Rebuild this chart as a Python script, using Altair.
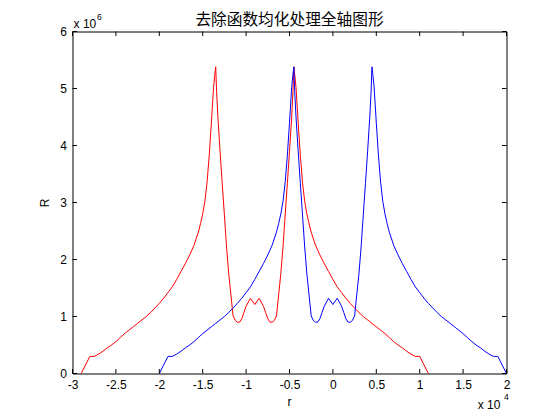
import altair as alt
import pandas as pd

# Tick values
x_ticks = [-30000, -25000, -20000, -15000, -10000, -5000, 0, 5000, 10000, 15000, 20000]
y_ticks = [0, 1, 2, 3, 4, 5, 6]

# Blue curve: r and R (R in units of 10^6)
blue_x = [-20000, -19000, -18500, -18000, -17500, -17000, -16500, -16000, -15500, -15000,
          -14500, -14000, -13500, -13000, -12500, -12000, -11500, -11000, -10500, -10000,
          -9500, -9000, -8500, -8000, -7500, -7000, -6500, -6250, -6000, -5750,
          -5500, -5250, -5000, -4750, -4600, -4500, -4400, -4250, -4000, -3750,
          -3500, -3250, -3000, -2750, -2500, -2250, -2000, -1750, -1500, -1250,
          -1000, -500, 0, 500, 1000, 1250, 1500, 1750, 2000, 2250,
          2500, 2750, 3000, 3250, 3500, 3750, 4000, 4250, 4400, 4500,
          4600, 4750, 5000, 5250, 5500, 5750, 6000, 6250, 6500, 7000,
          7500, 8000, 8500, 9000, 9500, 10000, 10500, 11000, 11500, 12000,
          12500, 13000, 13500, 14000, 14500, 15000, 15500, 16000, 16500, 17000,
          17500, 18000, 18500, 19000, 20000]
blue_y = [0.0, 0.30, 0.30, 0.34, 0.39, 0.45, 0.50, 0.56, 0.63, 0.70,
          0.76, 0.82, 0.88, 0.94, 1.00, 1.07, 1.15, 1.23, 1.32, 1.42,
          1.52, 1.65, 1.79, 1.93, 2.08, 2.25, 2.48, 2.63, 2.80, 3.02,
          3.35, 3.82, 4.40, 5.02, 5.25, 5.38, 4.95, 4.50, 3.90, 3.33,
          2.78, 2.22, 1.75, 1.38, 1.01, 0.93, 0.90, 0.90, 0.96, 1.07,
          1.18, 1.32, 1.21, 1.32, 1.18, 1.07, 0.96, 0.90, 0.90, 0.93,
          1.01, 1.38, 1.75, 2.22, 2.78, 3.33, 3.90, 4.50, 4.95, 5.38,
          5.25, 5.02, 4.40, 3.82, 3.35, 3.02, 2.80, 2.63, 2.48, 2.25,
          2.08, 1.93, 1.79, 1.65, 1.52, 1.42, 1.32, 1.23, 1.15, 1.07,
          1.00, 0.94, 0.88, 0.82, 0.76, 0.70, 0.63, 0.56, 0.50, 0.45,
          0.39, 0.34, 0.30, 0.30, 0.0]

# Red curve
red_x = [-29000, -28000, -27500, -27000, -26500, -26000, -25500, -25000, -24500, -24000,
         -23500, -23000, -22500, -22000, -21500, -21000, -20500, -20000, -19500, -19000,
         -18500, -18000, -17500, -17000, -16500, -16000, -15500, -15250, -15000, -14750,
         -14500, -14250, -14000, -13750, -13600, -13500, -13400, -13250, -13000, -12750,
         -12500, -12250, -12000, -11750, -11500, -11250, -11000, -10750, -10500, -10250,
         -10000, -9500, -9000, -8500, -8000, -7750, -7500, -7250, -7000, -6750,
         -6500, -6250, -6000, -5750, -5500, -5250, -5000, -4750, -4600, -4500,
         -4400, -4250, -4000, -3750, -3500, -3250, -3000, -2750, -2500, -2000,
         -1500, -1000, -500, 0, 500, 1000, 1500, 2000, 2500, 3000,
         3500, 4000, 4500, 5000, 5500, 6000, 6500, 7000, 7500, 8000,
         8500, 9000, 9500, 10000, 11000]
red_y = [0.0, 0.30, 0.30, 0.34, 0.39, 0.45, 0.50, 0.56, 0.63, 0.70,
         0.76, 0.82, 0.88, 0.94, 1.00, 1.07, 1.15, 1.23, 1.32, 1.42,
         1.52, 1.65, 1.79, 1.93, 2.08, 2.25, 2.48, 2.63, 2.80, 3.02,
         3.35, 3.82, 4.40, 5.02, 5.25, 5.38, 4.95, 4.50, 3.90, 3.33,
         2.78, 2.22, 1.75, 1.38, 1.01, 0.93, 0.90, 0.90, 0.96, 1.07,
         1.18, 1.32, 1.21, 1.32, 1.18, 1.07, 0.96, 0.90, 0.90, 0.93,
         1.01, 1.38, 1.75, 2.22, 2.78, 3.33, 3.90, 4.50, 4.95, 5.38,
         5.25, 5.02, 4.40, 3.82, 3.35, 3.02, 2.80, 2.63, 2.48, 2.25,
         2.08, 1.93, 1.79, 1.65, 1.52, 1.42, 1.32, 1.23, 1.15, 1.07,
         1.00, 0.94, 0.88, 0.82, 0.76, 0.70, 0.63, 0.56, 0.50, 0.45,
         0.39, 0.34, 0.30, 0.30, 0.0]

TITLE = "去除函数均化处理全轴图形"
W, H = 434, 342
TICK = 4.5
FONT = "Liberation Sans"

xscale = alt.Scale(domain=[-30000, 20000], nice=False, zero=False)
yscale = alt.Scale(domain=[0, 6], nice=False, zero=False)

xaxis = alt.Axis(values=x_ticks, labelExpr="'' + datum.value / 10000", title=None,
                 ticks=False, tickSize=0, domain=False, grid=False, labelPadding=6,
                 labelFont=FONT, labelFontSize=12, labelColor="black",
                 labelFlush=False, labelOverlap=False)
yaxis = alt.Axis(values=y_ticks, title=None, ticks=False, tickSize=0, domain=False,
                 grid=False, labelPadding=6, labelFont=FONT, labelFontSize=12,
                 labelColor="black", labelFlush=False, labelOverlap=False)

red_df = pd.DataFrame({"x": red_x, "y": red_y})
blue_df = pd.DataFrame({"x": blue_x, "y": blue_y})

red_line = alt.Chart(red_df).mark_line(color="#ff0000", strokeWidth=1).encode(
    x=alt.X("x:Q", scale=xscale, axis=xaxis),
    y=alt.Y("y:Q", scale=yscale, axis=yaxis),
)
blue_line = alt.Chart(blue_df).mark_line(color="#0000ff", strokeWidth=1).encode(
    x=alt.X("x:Q", scale=xscale, axis=xaxis),
    y=alt.Y("y:Q", scale=yscale, axis=yaxis),
)

xt = pd.DataFrame({"x": x_ticks})
yt = pd.DataFrame({"y": y_ticks})
bottom_ticks = alt.Chart(xt).mark_rule(color="black", strokeWidth=1).encode(
    x=alt.X("x:Q", scale=xscale, axis=xaxis), y=alt.value(H), y2=alt.value(H - TICK))
top_ticks = alt.Chart(xt).mark_rule(color="black", strokeWidth=1).encode(
    x=alt.X("x:Q", scale=xscale, axis=xaxis), y=alt.value(0), y2=alt.value(TICK))
left_ticks = alt.Chart(yt).mark_rule(color="black", strokeWidth=1).encode(
    y=alt.Y("y:Q", scale=yscale, axis=yaxis), x=alt.value(0), x2=alt.value(TICK))
right_ticks = alt.Chart(yt).mark_rule(color="black", strokeWidth=1).encode(
    y=alt.Y("y:Q", scale=yscale, axis=yaxis), x=alt.value(W), x2=alt.value(W - TICK))


def label(text, x, y, size=12, font=FONT, align="left", baseline="alphabetic", angle=0):
    return alt.Chart(pd.DataFrame({"t": [text]})).mark_text(
        font=font, fontSize=size, align=align, baseline=baseline, angle=angle, color="black"
    ).encode(text="t:N", x=alt.value(x), y=alt.value(y))


title_txt = label(TITLE, 217, -6.8, size=15.7, font="Noto Sans CJK SC", align="center")
ymult = label("x 10", 1.1, -3.5)
ysup = label("6", 24.5, -11.8, size=8.5)
xmult = label("x 10", 405.2, 377.5)
xsup = label("4", 431.5, 368.5, size=8.5)
xtitle = label("r", 217, 374.5, align="center")
ytitle = label("R", -27.5, 171.5, align="center", baseline="middle", angle=270)

chart = alt.layer(
    red_line, blue_line, bottom_ticks, top_ticks, left_ticks, right_ticks,
    title_txt, ymult, ysup, xmult, xsup, xtitle, ytitle,
).properties(
    width=W, height=H,
    padding={"left": 64.5, "top": 23.5, "right": 40, "bottom": 38.5},
    autosize=alt.AutoSizeParams(type="none"),
    background="white",
).configure_view(stroke="black", strokeWidth=1)

chart.save("out.html", embed_options={"renderer": "svg", "actions": False})
